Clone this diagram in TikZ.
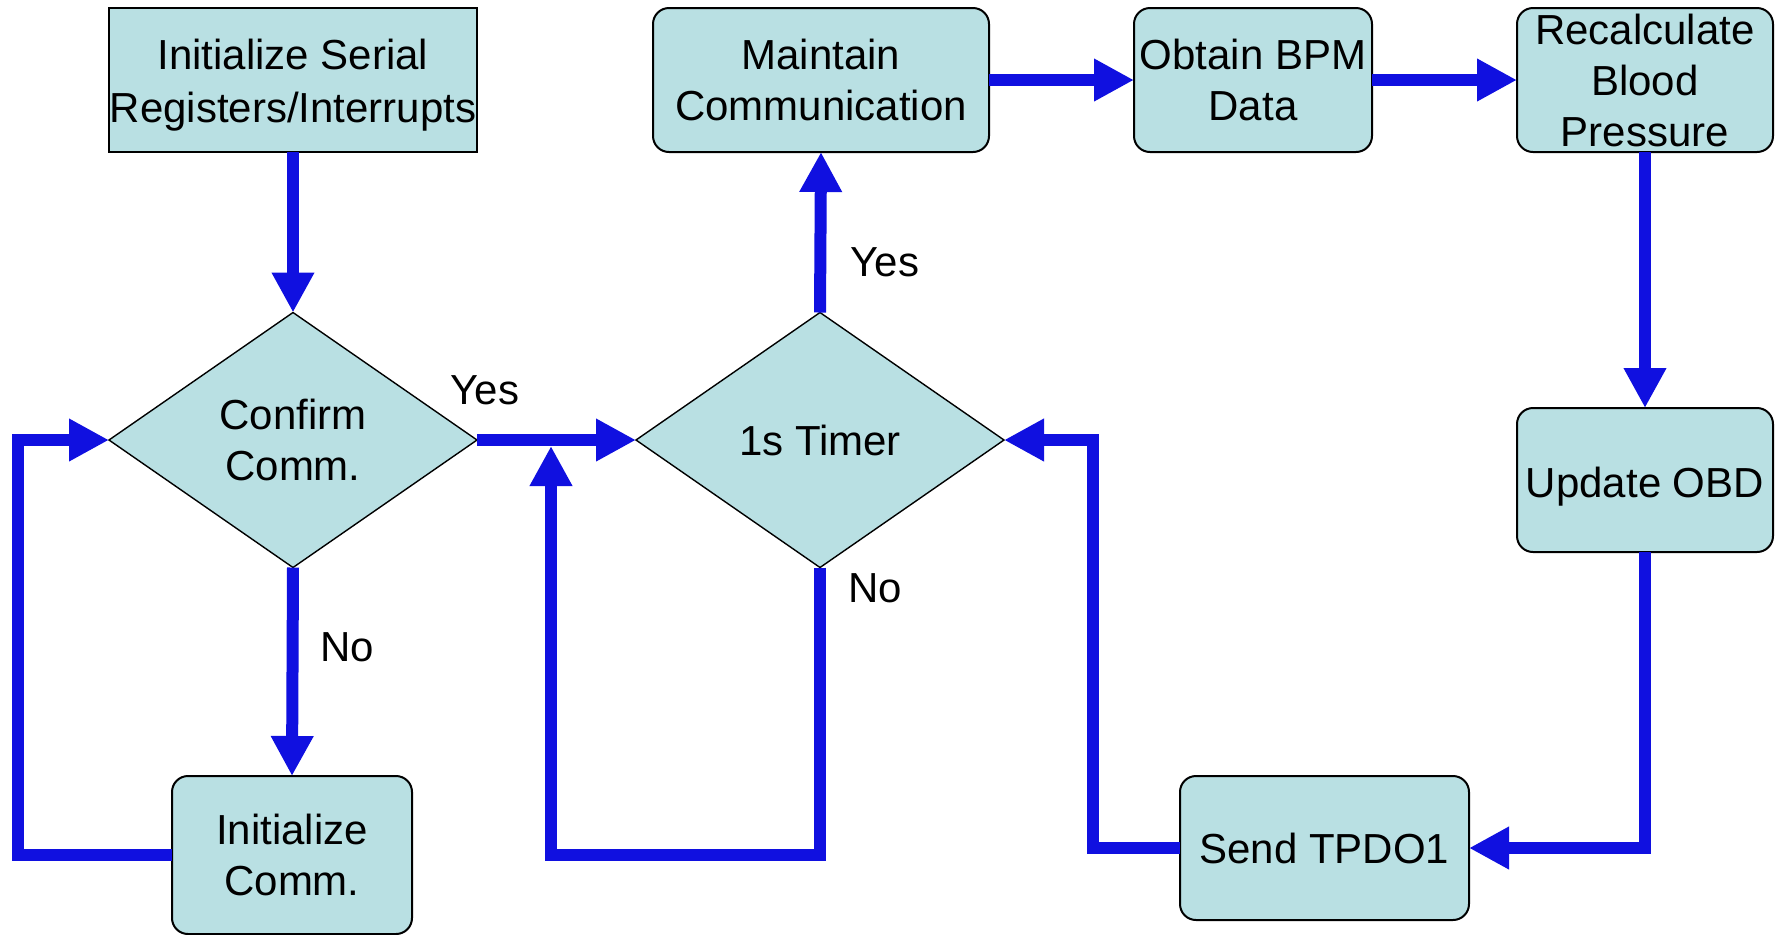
\documentclass[tikz,border=0pt]{standalone}
\usepackage{fontspec}
\setmainfont{Liberation Sans}
\usetikzlibrary{shapes.geometric,arrows.meta}
\definecolor{boxfill}{HTML}{B9E0E3}
\definecolor{flowblue}{HTML}{1010E0}

\begin{document}
\begin{tikzpicture}[x=0.5pt,y=-0.5pt,
  every node/.style={font=\fontsize{21}{25.5}\selectfont, inner sep=0pt, outer sep=0pt, align=center},
  plainbox/.style={draw=black, line width=1pt, fill=boxfill, minimum height=72pt},
  stepbox/.style={plainbox, rounded corners=8pt},
  decision/.style={diamond, draw=black, line width=0.7pt, fill=boxfill,
                   minimum width=184pt, minimum height=127.5pt},
  flow/.style={draw=flowblue, line width=6pt, line join=miter,
               -{Triangle[length=20pt,width=20pt]}}
]
\useasboundingbox (0,0) rectangle (1779,934);

% process steps and decisions
\node[plainbox, minimum width=184pt, font=\fontsize{21}{26.5}\selectfont] (init) at (293,80)
  {\raisebox{-2.5pt}[\height][\depth]{\begin{tabular}{@{}c@{}}Initialize Serial\\Registers/Interrupts\end{tabular}}};
\node[decision] (confirm) at (293,440) {Confirm\\Comm.};
\node[stepbox, minimum width=120pt, minimum height=79pt] (initcomm) at (292,855) {Initialize\\Comm.};
\node[decision] (timer) at (820,440) {1s Timer};
\node[stepbox, minimum width=168pt] (maintain) at (821,80) {Maintain\\Communication};
\node[stepbox, minimum width=119pt] (obtain) at (1253,80) {Obtain BPM\\Data};
\node[stepbox, minimum width=128pt] (recalc) at (1645,80) {Recalculate\\Blood\\Pressure};
\node[stepbox, minimum width=128pt] (update) at (1645,480)
  {\raisebox{-3.5pt}[\height][\depth]{Update OBD}};
\node[stepbox, minimum width=144.5pt] (send) at (1324.5,848) {Send TPDO1};

% where the timer loop rejoins the main line
\coordinate (rejoin) at (551,446);

% connectors
\draw[flow] (init.south) -- (confirm.north);
\draw[flow] (confirm.south) -- (initcomm.north);
\draw[flow] (initcomm.west) -| (18,440) -- (confirm.west);
\draw[flow] (confirm.east) -- (timer.west);
\draw[flow] (timer.south) |- (551,855) -- (rejoin);
\draw[flow] (timer.north) -- (maintain.south);
\draw[flow] (maintain.east) -- (obtain.west);
\draw[flow] (obtain.east) -- (recalc.west);
\draw[flow] (recalc.south) -- (update.north);
\draw[flow] (update.south) |- (send.east);
\draw[flow] (send.west) -| (1093,440) -- (timer.east);

% branch labels
\node (yes1) at (485,390) {Yes};
\node (no1) at (347,647) {No};
\node (yes2) at (885,262) {Yes};
\node (no2) at (875,588) {No};
\end{tikzpicture}
\end{document}
